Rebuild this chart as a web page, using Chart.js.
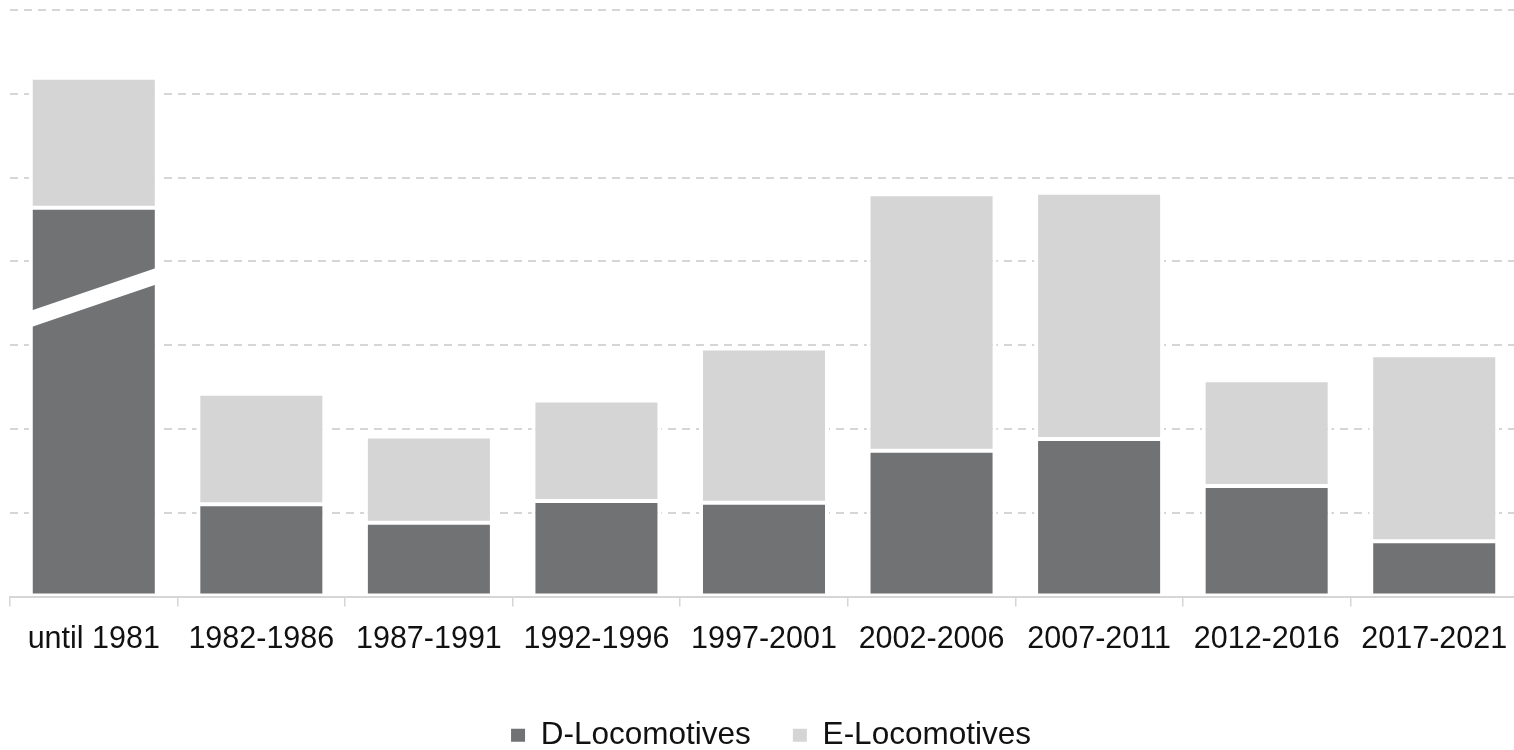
<!DOCTYPE html>
<html>
<head>
<meta charset="utf-8">
<script src="https://cdn.jsdelivr.net/npm/chart.js@4/dist/chart.umd.min.js"></script>
<style>
  html, body { margin: 0; padding: 0; background: #fff; overflow: hidden; }
  #wrap { width: 1514px; height: 750px; overflow: hidden; position: relative; }
  canvas { display: block; }
</style>
</head>
<body>
<div id="wrap"><canvas id="c" width="1540" height="761" style="width:1540px;height:761px"></canvas></div>
<script>
const categories = ['until 1981', '1982-1986', '1987-1991', '1992-1996', '1997-2001', '2002-2006', '2007-2011', '2012-2016', '2017-2021'];
const dLocomotives = [464, 110, 88, 114, 112, 174, 188, 132, 66];
const eLocomotives = [155, 132, 103, 120, 184, 306, 294, 126, 222];
const seriesNames = ['D-Locomotives', 'E-Locomotives'];
const axisBreakValue = 357; // where the first bar is cut (broken axis)

const FONT = '"Liberation Sans", Arial, Helvetica, sans-serif';

const breakPlugin = {
  id: 'axisBreak',
  afterDatasetsDraw(chart) {
    const meta = chart.getDatasetMeta(0);
    const el = meta.data[0];
    if (!el) return;
    const y = chart.scales.y;
    const cy = y.getPixelForValue(axisBreakValue);
    const half = el.width / 2 + 1;
    const L = el.x - half, R = el.x + half;
    const slope = 0.341;
    const th = 16.5;
    const yl = cy + slope * half - th / 2;
    const yr = cy - slope * half - th / 2;
    const ctx = chart.ctx;
    ctx.save();
    ctx.fillStyle = '#ffffff';
    ctx.beginPath();
    ctx.moveTo(L, yl);
    ctx.lineTo(R, yr);
    ctx.lineTo(R, yr + th);
    ctx.lineTo(L, yl + th);
    ctx.closePath();
    ctx.fill();
    ctx.restore();
  }
};

new Chart(document.getElementById('c'), {
  type: 'bar',
  data: {
    labels: categories,
    datasets: [
      {
        label: seriesNames[0],
        data: dLocomotives,
        backgroundColor: '#717274',
        borderColor: '#ffffff',
        borderWidth: { top: 2, bottom: 2, left: 4, right: 4 },
        borderSkipped: false,
        barPercentage: 0.776,
        categoryPercentage: 1.0
      },
      {
        label: seriesNames[1],
        data: eLocomotives,
        backgroundColor: '#d5d5d5',
        borderColor: '#ffffff',
        borderWidth: { top: 2, bottom: 2, left: 4, right: 4 },
        borderSkipped: false,
        barPercentage: 0.776,
        categoryPercentage: 1.0
      }
    ]
  },
  options: {
    responsive: false,
    animation: false,
    devicePixelRatio: 1,
    layout: { padding: { top: 10, left: 10, right: 8, bottom: 0 } },
    plugins: {
      tooltip: { enabled: false },
      legend: {
        position: 'bottom',
        labels: {
          font: { family: FONT, size: 31.5 },
          color: '#111111',
          boxWidth: 14,
          boxHeight: 13,
          padding: 42,
          generateLabels: (chart) => Chart.defaults.plugins.legend.labels.generateLabels(chart).map(l => ({ ...l, lineWidth: 0, strokeStyle: 'rgba(0,0,0,0)' }))
        }
      }
    },
    scales: {
      x: {
        stacked: true,
        z: 1,
        afterFit: (s) => { s.height = 81; },
        grid: {
          display: true,
          offset: true,
          drawOnChartArea: false,
          drawTicks: true,
          tickLength: 10,
          color: '#d6d6d6',
          lineWidth: 1.5
        },
        border: { display: true, color: '#d6d6d6', width: 2 },
        ticks: {
          font: { family: FONT, size: 30.5 },
          color: '#111111',
          padding: 15,
          maxRotation: 0,
          autoSkip: false
        }
      },
      y: {
        stacked: true,
        position: 'right',
        min: 0,
        max: 700,
        afterFit: (s) => { s.width = 14; },
        ticks: { display: false, stepSize: 100 },
        grid: {
          color: '#d6d6d6',
          lineWidth: 2,
          drawTicks: false,
          tickLength: 0
        },
        border: { display: false, dash: [8, 6] }
      }
    }
  },
  plugins: [breakPlugin]
});
</script>
</body>
</html>
